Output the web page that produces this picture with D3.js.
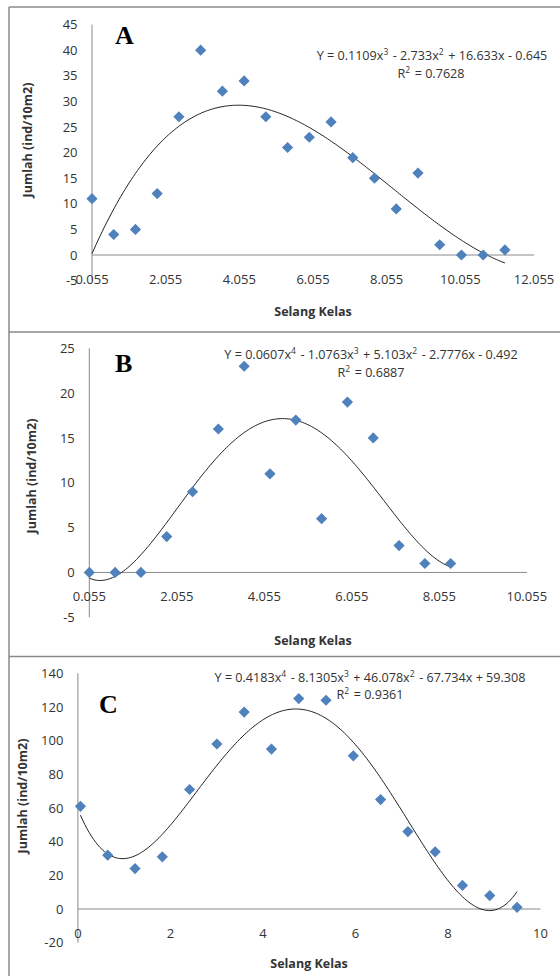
<!DOCTYPE html>
<html>
<head>
<meta charset="utf-8">
<script src="https://cdn.jsdelivr.net/npm/d3@7"></script>
<style>
  html, body { margin: 0; padding: 0; background: #fff; }
  svg { display: block; }
  .tick-label { font-family: "Open Sans", sans-serif; font-size: 13px; fill: #333; }
  .axis-title { font-family: "Open Sans", sans-serif; font-size: 12.5px; font-weight: bold; fill: #333; }
  .eq { font-family: "Open Sans", sans-serif; font-size: 12.6px; fill: #333; }
  .panel-letter { font-family: "Liberation Serif", serif; font-size: 26px; font-weight: bold; fill: #000; }
</style>
</head>
<body>
<svg id="chart" width="560" height="976"></svg>
<script>
(function () {
  "use strict";

  // class midpoints (Selang Kelas)
  const classX = [0.055, 0.645, 1.235, 1.825, 2.415, 3.005, 3.595, 4.185, 4.775, 5.365,
    5.955, 6.545, 7.135, 7.725, 8.315, 8.905, 9.495, 10.085, 10.675, 11.265];

  const countsA = [11, 4, 5, 12, 27, 40, 32, 34, 27, 21, 23, 26, 19, 15, 9, 16, 2, 0, 0, 1];
  const countsB = [0, 0, 0, 4, 9, 16, 23, 11, 17, 6, 19, 15, 3, 1, 1];
  const countsC = [61, 32, 24, 31, 71, 98, 117, 95, 125, 124, 91, 65, 46, 34, 14, 8, 1];

  // polynomial trendline coefficients, constant term first
  const coefA = [-0.645, 16.633, -2.733, 0.1109];
  const coefB = [-0.492, -2.7776, 5.103, -1.0763, 0.0607];
  const coefC = [59.308, -67.734, 46.078, -8.1305, 0.4183];

  const eqA = "Y = 0.1109x^3 - 2.733x^2 + 16.633x - 0.645";
  const eqB = "Y = 0.0607x^4 - 1.0763x^3 + 5.103x^2 - 2.7776x - 0.492";
  const eqC = "Y = 0.4183x^4 - 8.1305x^3 + 46.078x^2 - 67.734x + 59.308";
  const r2A = "R^2 = 0.7628";
  const r2B = "R^2 = 0.6887";
  const r2C = "R^2 = 0.9361";

  const xTicksA = [0.055, 2.055, 4.055, 6.055, 8.055, 10.055, 12.055];
  const xTicksB = [0.055, 2.055, 4.055, 6.055, 8.055, 10.055];
  const xTicksC = [0, 2, 4, 6, 8, 10];
  const yTicksA = [-5, 0, 5, 10, 15, 20, 25, 30, 35, 40, 45];
  const yTicksB = [-5, 0, 5, 10, 15, 20, 25];
  const yTicksC = [-20, 0, 20, 40, 60, 80, 100, 120, 140];

  const panels = [
    {
      letter: "A", ys: countsA, coef: coefA, eq: eqA, r2: r2A,
      xTicks: xTicksA, xFmt: d3.format(".3f"), yTicks: yTicksA,
      xDomain: [0.055, 12.055], xRange: [92, 534],
      yDomain: [-5, 45], yRange: [280.6, 24.6],
      letterPos: [115, 43.5], eqPos: [432, 55], r2Pos: [431, 73],
      yTitlePos: [27, 140], xTitlePos: [313, 311], xLabelY: 279
    },
    {
      letter: "B", ys: countsB, coef: coefB, eq: eqB, r2: r2B,
      xTicks: xTicksB, xFmt: d3.format(".3f"), yTicks: yTicksB,
      xDomain: [0.055, 10.055], xRange: [89.3, 526.8],
      yDomain: [-5, 25], yRange: [617.3, 348.3],
      letterPos: [115, 372], eqPos: [371, 354], r2Pos: [371, 372],
      yTitlePos: [31, 476], xTitlePos: [313, 640], xLabelY: 596
    },
    {
      letter: "C", ys: countsC, coef: coefC, eq: eqC, r2: r2C,
      xTicks: xTicksC, xFmt: d3.format("d"), yTicks: yTicksC,
      xDomain: [0, 10], xRange: [77.9, 540.4],
      yDomain: [-20, 140], yRange: [942.7, 673.3],
      letterPos: [99, 712.5], eqPos: [370, 677], r2Pos: [370, 694],
      yTitlePos: [22, 796], xTitlePos: [309, 963], xLabelY: 933
    }
  ];

  const svg = d3.select("#chart");

  // frame lines
  const frame = svg.append("g").attr("stroke", "#8a8a8a").attr("stroke-width", 1.5);
  frame.append("line").attr("x1", 9).attr("x2", 9).attr("y1", 7).attr("y2", 976);
  [7, 332, 656.5].forEach((y) => {
    frame.append("line").attr("x1", 9).attr("x2", 560).attr("y1", y).attr("y2", y);
  });

  function poly(coef, x) {
    return coef.reduce((acc, c, i) => acc + c * Math.pow(x, i), 0);
  }

  // write "x^3" style strings with raised exponents
  function richText(sel, str) {
    const parts = str.split(/\^(\d)/);
    parts.forEach((p, i) => {
      if (i % 2 === 0) {
        if (p) sel.append("tspan").text(p);
      } else {
        sel.append("tspan").attr("dy", -5).attr("font-size", "8.5px").text(p);
        sel.append("tspan").attr("dy", 5).text("\u200a");
      }
    });
  }

  const diamond = "M0,-5.6L5.6,0L0,5.6L-5.6,0Z";

  panels.forEach((p) => {
    const x = d3.scaleLinear().domain(p.xDomain).range(p.xRange);
    const y = d3.scaleLinear().domain(p.yDomain).range(p.yRange);
    const g = svg.append("g");
    const xs = classX.slice(0, p.ys.length);

    // axes
    g.append("line")
      .attr("x1", x(p.xDomain[0])).attr("x2", x(p.xDomain[0]))
      .attr("y1", y(p.yDomain[1])).attr("y2", y(p.yDomain[0]))
      .attr("stroke", "#8a8a8a").attr("stroke-width", 1);
    g.append("line")
      .attr("x1", x(p.xDomain[0])).attr("x2", x(p.xDomain[1]))
      .attr("y1", y(0)).attr("y2", y(0))
      .attr("stroke", "#8a8a8a").attr("stroke-width", 1);

    g.selectAll("text.ytick")
      .data(p.yTicks)
      .join("text")
      .attr("class", "tick-label ytick")
      .attr("x", x(p.xDomain[0]) - 14.5)
      .attr("y", (d) => y(d))
      .attr("dy", "0.36em")
      .attr("text-anchor", "end")
      .text((d) => d);

    g.selectAll("text.xtick")
      .data(p.xTicks)
      .join("text")
      .attr("class", "tick-label xtick")
      .attr("x", (d) => x(d))
      .attr("y", p.xLabelY)
      .attr("dy", "0.36em")
      .attr("text-anchor", "middle")
      .text((d) => p.xFmt(d));

    // trendline
    const xMin = xs[0], xMax = xs[xs.length - 1];
    const samples = d3.range(0, 201).map((i) => xMin + (xMax - xMin) * i / 200);
    g.append("path")
      .attr("d", d3.line().x((d) => x(d)).y((d) => y(poly(p.coef, d)))(samples))
      .attr("fill", "none")
      .attr("stroke", "#222")
      .attr("stroke-width", 1);

    // points
    g.selectAll("path.pt")
      .data(p.ys)
      .join("path")
      .attr("class", "pt")
      .attr("d", diamond)
      .attr("fill", "#4f81bd")
      .attr("transform", (d, i) => `translate(${x(xs[i])},${y(d)})`);

    // labels
    g.append("text")
      .attr("class", "panel-letter")
      .attr("x", p.letterPos[0]).attr("y", p.letterPos[1])
      .text(p.letter);

    richText(g.append("text").attr("class", "eq")
      .attr("x", p.eqPos[0]).attr("y", p.eqPos[1]).attr("dy", "0.36em")
      .attr("text-anchor", "middle"), p.eq);
    richText(g.append("text").attr("class", "eq")
      .attr("x", p.r2Pos[0]).attr("y", p.r2Pos[1]).attr("dy", "0.36em")
      .attr("text-anchor", "middle"), p.r2);

    g.append("text")
      .attr("class", "axis-title")
      .attr("transform", `translate(${p.yTitlePos[0]},${p.yTitlePos[1]}) rotate(-90)`)
      .attr("dy", "0.36em")
      .attr("text-anchor", "middle")
      .text("Jumlah (ind/10m2)");

    g.append("text")
      .attr("class", "axis-title")
      .attr("x", p.xTitlePos[0]).attr("y", p.xTitlePos[1])
      .attr("dy", "0.36em")
      .attr("text-anchor", "middle")
      .text("Selang Kelas");
  });
})();
</script>
</body>
</html>
